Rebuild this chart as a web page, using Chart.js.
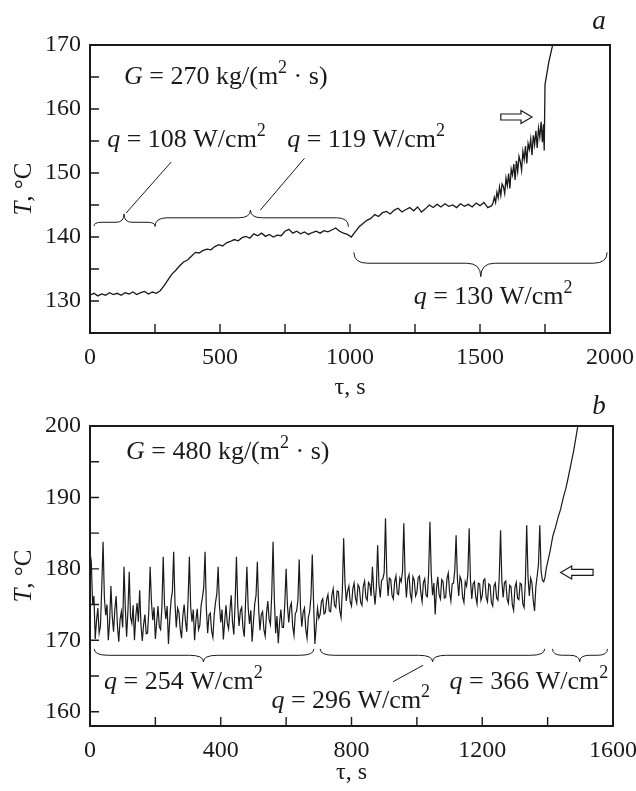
<!DOCTYPE html>
<html>
<head>
<meta charset="utf-8">
<script src="https://cdn.jsdelivr.net/npm/chart.js@4.4.1/dist/chart.umd.min.js"></script>
<style>
  html, body { margin: 0; padding: 0; background: #fff; }
  canvas { position: absolute; left: 0; }
  #chartA { top: 0; }
  #chartB { top: 395px; }
</style>
</head>
<body>
<canvas id="chartA" width="636" height="400"></canvas>
<canvas id="chartB" width="636" height="396"></canvas>
<script>
// panel a: G = 270 kg/(m2 s)
const tauA = [
  0, 15, 30, 45, 60, 75, 90, 105, 120, 135, 150, 165, 180, 195, 210, 225, 240, 255, 270,
  285, 300, 315, 330, 345, 360, 375, 390, 405, 420, 435, 450, 465, 480, 495, 510, 525,
  540, 555, 570, 585, 600, 615, 630, 645, 660, 675, 690, 705, 720, 735, 750, 765, 780,
  795, 810, 825, 840, 855, 870, 885, 900, 915, 930, 945, 960, 975, 990, 1005, 1020, 1035,
  1050, 1065, 1080, 1095, 1110, 1125, 1140, 1155, 1170, 1185, 1200, 1215, 1230, 1245,
  1260, 1275, 1290, 1305, 1320, 1335, 1350, 1365, 1380, 1395, 1410, 1425, 1440, 1455,
  1470, 1485, 1500, 1515, 1530, 1545,
  1550, 1555, 1560, 1565, 1570, 1575, 1580, 1585, 1590, 1595,
  1600, 1605, 1610, 1615, 1620, 1625, 1630, 1635, 1640, 1645,
  1650, 1655, 1660, 1665, 1670, 1675, 1680, 1685, 1690, 1695,
  1700, 1705, 1710, 1715, 1720, 1725, 1730, 1735, 1740, 1744, 1747,
  1750, 1765, 1785
];
const tempA = [
  130.9, 131.2, 130.8, 131.1, 130.9, 131.3, 131.0, 131.2, 130.9, 131.3, 131.1, 131.4, 131.0, 131.3, 131.5, 131.1, 131.4, 131.2, 131.6,
  132.4, 133.3, 134.2, 134.8, 135.5, 136.1, 136.4, 137.0, 137.6, 137.5, 137.9, 138.1, 138.0, 138.5, 138.8, 138.6, 139.1,
  139.3, 139.6, 139.4, 139.9, 140.1, 139.8, 140.5, 140.2, 140.6, 140.1, 140.4, 140.0, 140.3, 140.2, 140.9, 141.2, 140.6,
  140.9, 140.5, 140.8, 140.4, 140.7, 140.9, 140.6, 141.0, 140.8, 141.1, 141.4, 140.9, 140.6, 140.4, 140.0, 140.8, 141.6,
  142.1, 142.6, 142.9, 143.5, 143.2, 143.8, 144.0, 143.6, 144.2, 144.5, 143.9, 144.3, 144.6, 144.1,
  144.7, 143.9, 144.4, 145.0, 144.6, 145.1, 144.7, 145.2, 144.8, 145.0, 144.6, 145.2, 144.8, 145.1,
  144.7, 145.3, 144.9, 145.4, 144.6, 144.9,
  145.3, 146.2, 145.4, 147.0, 146.1, 147.8, 146.5, 148.3, 147.9, 146.8,
  149.2, 148.0, 149.9, 147.6, 150.6, 149.7, 151.4, 148.9, 151.9, 150.2,
  152.6, 151.8, 150.4, 153.4, 152.1, 154.2, 151.5, 154.6, 153.7, 155.3,
  152.8, 155.9, 154.4, 156.6, 153.9, 157.0, 155.6, 158.0, 154.8, 157.6, 153.5,
  163.8, 167.4, 171.0
];

// panel b: G = 480 kg/(m2 s)
const tauB = [
  0, 4, 8, 12, 16, 20, 24, 28, 32, 36, 40, 44, 48, 52, 56, 60, 64, 68, 72, 76,
  80, 84, 88, 92, 96, 100, 104, 108, 112, 116, 120, 124, 128, 132, 136, 140, 144, 148, 152, 156,
  160, 164, 168, 172, 176, 180, 184, 188, 192, 196, 200, 204, 208, 212, 216, 220, 224, 228, 232, 236,
  240, 244, 248, 252, 256, 260, 264, 268, 272, 276, 280, 284, 288, 292, 296, 300, 304, 308, 312, 316,
  320, 324, 328, 332, 336, 340, 344, 348, 352, 356, 360, 364, 368, 372, 376, 380, 384, 388, 392, 396,
  400, 404, 408, 412, 416, 420, 424, 428, 432, 436, 440, 444, 448, 452, 456, 460, 464, 468, 472, 476,
  480, 484, 488, 492, 496, 500, 504, 508, 512, 516, 520, 524, 528, 532, 536, 540, 544, 548, 552, 556,
  560, 564, 568, 572, 576, 580, 584, 588, 592, 596, 600, 604, 608, 612, 616, 620, 624, 628, 632, 636,
  640, 644, 648, 652, 656, 660, 664, 668, 672, 676, 680, 684, 688, 692, 696, 700, 704, 708, 712, 716,
  720, 724, 728, 732, 736, 740, 744, 748, 752, 756, 760, 764, 768, 772, 776, 780, 784, 788, 792, 796,
  800, 804, 808, 812, 816, 820, 824, 828, 832, 836, 840, 844, 848, 852, 856, 860, 864, 868, 872, 876,
  880, 884, 888, 892, 896, 900, 904, 908, 912, 916, 920, 924, 928, 932, 936, 940, 944, 948, 952, 956,
  960, 964, 968, 972, 976, 980, 984, 988, 992, 996, 1000, 1004, 1008, 1012, 1016, 1020, 1024, 1028, 1032, 1036,
  1040, 1044, 1048, 1052, 1056, 1060, 1064, 1068, 1072, 1076, 1080, 1084, 1088, 1092, 1096, 1100, 1104, 1108, 1112, 1116,
  1120, 1124, 1128, 1132, 1136, 1140, 1144, 1148, 1152, 1156, 1160, 1164, 1168, 1172, 1176, 1180, 1184, 1188, 1192, 1196,
  1200, 1204, 1208, 1212, 1216, 1220, 1224, 1228, 1232, 1236, 1240, 1244, 1248, 1252, 1256, 1260, 1264, 1268, 1272, 1276,
  1280, 1284, 1288, 1292, 1296, 1300, 1304, 1308, 1312, 1316, 1320, 1324, 1328, 1332, 1336, 1340, 1344, 1348, 1352, 1356,
  1360, 1364, 1368, 1372, 1376, 1380, 1384, 1388, 1392, 1396, 1400,
  1408, 1416, 1424, 1432, 1440, 1448, 1456, 1464, 1472, 1480, 1488, 1496
];
const tempB = [
  182.3, 181.0, 175.0, 176.2, 170.2, 172.8, 174.5, 171.0, 172.0, 177.5, 183.8, 176.0, 173.5, 175.0, 170.0, 172.6, 177.6, 173.4, 171.2, 174.3,
  176.2, 172.0, 169.8, 172.9, 174.0, 171.8, 180.3, 174.6, 170.5, 174.1, 179.6, 173.2, 172.4, 174.9, 170.0, 173.3, 175.2, 172.6, 177.0, 172.1,
  169.9, 172.2, 173.6, 170.9, 171.0, 174.2, 180.3, 175.4, 172.8, 174.6, 170.2, 172.5, 174.8, 171.9, 171.5, 174.7, 181.7, 175.0, 173.0, 174.8,
  169.5, 172.9, 175.6, 176.8, 182.4, 175.2, 171.8, 174.5, 173.9, 171.6, 170.3, 173.4, 175.0, 172.7, 171.2, 175.6, 181.7, 174.7, 172.6, 174.3,
  170.0, 172.8, 174.4, 171.5, 172.1, 174.9, 176.0, 177.4, 182.4, 174.4, 171.0, 173.5, 173.8, 171.3, 170.4, 173.6, 175.3, 176.5, 180.3, 174.9,
  172.5, 174.3, 170.1, 172.6, 174.9, 172.4, 171.6, 174.1, 176.3, 172.5, 170.8, 175.3, 181.7, 174.8, 172.0, 174.1, 174.6, 171.7, 170.5, 175.4,
  180.3, 174.5, 172.3, 174.2, 169.8, 172.6, 175.1, 176.3, 181.0, 174.3, 171.4, 173.6, 174.0, 171.5, 170.6, 173.8, 175.5, 172.9, 172.2, 176.4,
  183.8, 175.7, 171.0, 173.4, 169.6, 172.5, 174.3, 171.8, 171.8, 175.2, 180.0, 174.9, 172.5, 174.6, 175.2, 172.0, 170.7, 173.7, 174.1, 175.6,
  181.3, 174.6, 171.9, 173.9, 174.5, 171.6, 170.3, 173.2, 174.0, 176.1, 182.0, 175.3, 169.5, 172.0, 174.5, 173.1, 173.6, 175.4, 175.8, 173.7,
  173.9, 175.7, 176.4, 174.1, 174.0, 176.3, 177.2, 174.9, 174.6, 176.9, 176.8, 174.2, 173.2, 177.0, 184.3, 178.1, 175.5, 176.9, 177.6, 175.4,
  174.8, 177.2, 178.0, 175.9, 175.2, 177.8, 177.4, 175.3, 174.9, 177.6, 178.3, 176.0, 175.6, 178.1, 177.8, 176.2, 180.3, 177.0, 175.0, 177.4,
  183.3, 177.8, 176.0, 178.4, 178.6, 179.5, 187.1, 179.2, 176.2, 178.7, 178.5, 176.3, 175.8, 178.2, 179.0, 176.6, 176.4, 178.7, 178.2, 179.6,
  186.4, 179.0, 176.0, 178.6, 179.2, 176.5, 175.6, 178.9, 178.4, 176.2, 176.7, 178.8, 179.0, 176.7, 175.4, 178.1, 178.6, 176.3, 176.1, 179.4,
  186.6, 179.3, 176.3, 178.0, 173.6, 177.2, 178.9, 176.4, 175.8, 178.5, 178.2, 175.9, 176.0, 178.6, 179.4, 176.8, 175.5, 177.9, 178.0, 179.8,
  184.7, 178.6, 176.2, 178.9, 178.4, 176.0, 175.3, 178.2, 177.6, 179.3, 185.7, 178.4, 175.8, 177.9, 178.2, 176.1, 175.1, 178.0, 177.9, 175.6,
  176.3, 178.4, 178.6, 176.0, 175.4, 177.9, 177.7, 175.3, 174.8, 177.6, 178.0, 175.9, 175.6, 178.8, 185.4, 178.3, 176.0, 178.1, 178.3, 175.8,
  175.2, 177.7, 177.5, 175.0, 174.2, 177.4, 178.1, 175.9, 175.7, 178.0, 177.8, 175.1, 174.6, 178.3, 186.1, 178.9, 176.2, 178.7, 178.0, 175.6,
  174.1, 177.5, 179.0, 180.6, 186.1, 179.7, 178.4, 178.2, 178.8, 180.1, 180.9,
  182.6, 184.6, 185.8, 187.2, 188.4, 190.0, 191.3, 193.0, 194.8, 196.6, 198.8, 201.0
];

const INK = '#1a1a1a';
const SERIF = "'Liberation Serif', 'DejaVu Serif', serif";

// text pieces: [text, style]  style: 'i' italic, 's' superscript
function richText(ctx, parts, x, y, size) {
  ctx.textBaseline = 'middle';
  ctx.textAlign = 'left';
  let cx = x;
  parts.forEach(([t, st]) => {
    const sup = st === 's';
    const fs = sup ? Math.round(size * 0.68) : size;
    ctx.font = (st === 'i' ? 'italic ' : '') + fs + 'px ' + SERIF;
    ctx.fillText(t, cx, sup ? y - size * 0.34 : y);
    cx += ctx.measureText(t).width;
  });
}

function brace(ctx, x1, x2, xm, yEnd, yLine, yTip, r) {
  r = Math.min(r, (xm - x1) / 2, (x2 - xm) / 2);
  ctx.beginPath();
  ctx.moveTo(x1, yEnd);
  ctx.quadraticCurveTo(x1, yLine, x1 + r, yLine);
  ctx.lineTo(xm - r, yLine);
  ctx.quadraticCurveTo(xm, yLine, xm, yTip);
  ctx.quadraticCurveTo(xm, yLine, xm + r, yLine);
  ctx.lineTo(x2 - r, yLine);
  ctx.quadraticCurveTo(x2, yLine, x2, yEnd);
  ctx.stroke();
}

function hollowArrow(ctx, xTail, xHead, y) {
  const dir = Math.sign(xHead - xTail);
  const xb = xHead - dir * 11;
  ctx.beginPath();
  ctx.moveTo(xTail, y - 3);
  ctx.lineTo(xb, y - 3);
  ctx.lineTo(xb, y - 6.5);
  ctx.lineTo(xHead, y);
  ctx.lineTo(xb, y + 6.5);
  ctx.lineTo(xb, y + 3);
  ctx.lineTo(xTail, y + 3);
  ctx.closePath();
  ctx.stroke();
}

function makeDecor(d) {
  return {
    id: 'decor',
    afterDatasetsDraw(chart) {
      const { ctx, chartArea: a, scales: { x, y } } = chart;
      const X = v => x.getPixelForValue(v);
      const Y = v => y.getPixelForValue(v);
      ctx.save();
      ctx.strokeStyle = INK;
      ctx.fillStyle = INK;

      // frame and inward ticks
      ctx.lineWidth = 2;
      ctx.strokeRect(a.left, a.top, a.right - a.left, a.bottom - a.top);
      ctx.lineWidth = 1.4;
      ctx.beginPath();
      x.ticks.forEach(t => {
        if (t.value <= x.min || t.value >= x.max) return;
        ctx.moveTo(X(t.value), a.bottom);
        ctx.lineTo(X(t.value), a.bottom - 9);
      });
      y.ticks.forEach(t => {
        if (t.value <= y.min || t.value >= y.max || t.value % 5 !== 0) return;
        ctx.moveTo(a.left, Y(t.value));
        ctx.lineTo(a.left + 9, Y(t.value));
      });
      ctx.stroke();

      // braces, leader lines, arrows
      ctx.lineWidth = 1;
      d.braces.forEach(b => brace(ctx, X(b[0]), X(b[1]), X(b[2]), Y(b[3]), Y(b[4]), Y(b[5]), b[6]));
      ctx.beginPath();
      d.leaders.forEach(l => { ctx.moveTo(X(l[0]), Y(l[1])); ctx.lineTo(X(l[2]), Y(l[3])); });
      ctx.stroke();
      ctx.lineWidth = 1.2;
      d.arrows.forEach(ar => hollowArrow(ctx, X(ar[0]), X(ar[1]), Y(ar[2])));

      // annotations
      d.notes.forEach(n => richText(ctx, n.parts, X(n.x), Y(n.y), 26));

      // panel letter
      ctx.font = 'italic 27px ' + SERIF;
      ctx.textAlign = 'center';
      ctx.textBaseline = 'middle';
      ctx.fillText(d.letter, 599, d.letterY);

      // y title with italic T
      ctx.translate(24, (a.top + a.bottom) / 2);
      ctx.rotate(-Math.PI / 2);
      ctx.font = 'italic 25px ' + SERIF;
      const w1 = ctx.measureText('T').width;
      ctx.font = '25px ' + SERIF;
      const w2 = ctx.measureText(', °C').width;
      ctx.textAlign = 'left';
      ctx.font = 'italic 25px ' + SERIF;
      ctx.fillText('T', -(w1 + w2) / 2, 0);
      ctx.font = '25px ' + SERIF;
      ctx.fillText(', °C', -(w1 + w2) / 2 + w1, 0);
      ctx.restore();
    }
  };
}

function makeChart(id, d) {
  return new Chart(document.getElementById(id), {
    type: 'line',
    data: {
      datasets: [{
        data: d.tau.map((t, i) => ({ x: t, y: d.temp[i] })),
        borderColor: INK,
        borderWidth: d.lineWidth,
        pointRadius: 0,
        tension: 0,
        fill: false
      }]
    },
    options: {
      responsive: false,
      animation: false,
      events: [],
      layout: { padding: d.pad },
      plugins: { legend: { display: false }, tooltip: { enabled: false } },
      scales: {
        x: {
          type: 'linear',
          min: d.xMin,
          max: d.xMax,
          grid: { display: false, drawTicks: false },
          border: { display: false },
          ticks: {
            stepSize: d.xStep,
            autoSkip: false,
            includeBounds: false,
            maxRotation: 0,
            padding: 10,
            color: INK,
            font: { family: SERIF, size: 24, lineHeight: 1.2 },
            callback: v => (v % d.xLabelStep === 0 ? String(v) : '')
          },
          title: {
            display: true,
            text: 'τ, s',
            color: INK,
            font: { family: SERIF, size: 24, lineHeight: 1 },
            padding: { top: 0, bottom: d.xTitlePad }
          },
          afterFit: s => { s.height = d.xAxisH; s.paddingLeft = 0; s.paddingRight = 0; }
        },
        y: {
          min: d.yMin,
          max: d.yMax,
          grid: { display: false, drawTicks: false },
          border: { display: false },
          ticks: {
            stepSize: 5,
            autoSkip: false,
            includeBounds: false,
            padding: 9,
            color: INK,
            font: { family: SERIF, size: 24, lineHeight: 1.2 },
            callback: v => (v % 10 === 0 ? String(v) : '')
          },
          afterFit: s => { s.width = 90; s.paddingTop = 0; s.paddingBottom = 0; }
        }
      }
    },
    plugins: [makeDecor(d)]
  });
}

makeChart('chartA', {
  tau: tauA, temp: tempA, lineWidth: 1.3,
  xMin: 0, xMax: 2000, xStep: 250, xLabelStep: 500,
  yMin: 125, yMax: 170,
  pad: { left: 0, right: 26, top: 45, bottom: 0 },
  xAxisH: 67, xTitlePad: 0,
  letter: 'a', letterY: 22,
  braces: [
    [15, 250, 131, 141.7, 142.3, 143.6, 8],
    [250, 994, 617, 141.6, 143.0, 144.2, 12],
    [1015, 1989, 1503, 137.6, 135.9, 133.8, 14]
  ],
  leaders: [[312, 151.7, 139, 143.75], [825, 152.3, 655, 144.2]],
  arrows: [[1580, 1700, 158.75]],
  notes: [
    { x: 131, y: 165, parts: [['G', 'i'], [' = 270 kg/(m'], ['2', 's'], [' · s)']] },
    { x: 66, y: 155.2, parts: [['q', 'i'], [' = 108 W/cm'], ['2', 's']] },
    { x: 759, y: 155.2, parts: [['q', 'i'], [' = 119 W/cm'], ['2', 's']] },
    { x: 1245, y: 130.6, parts: [['q', 'i'], [' = 130 W/cm'], ['2', 's']] }
  ]
});

makeChart('chartB', {
  tau: tauB, temp: tempB, lineWidth: 1.2,
  xMin: 0, xMax: 1600, xStep: 200, xLabelStep: 400,
  yMin: 158, yMax: 200,
  pad: { left: 0, right: 23, top: 31, bottom: 0 },
  xAxisH: 65, xTitlePad: 6,
  letter: 'b', letterY: 12,
  braces: [
    [13, 685, 347, 168.8, 167.9, 167.0, 14],
    [704, 1391, 1048, 168.8, 167.9, 167.0, 14],
    [1415, 1583, 1498, 168.8, 167.9, 167.0, 10]
  ],
  leaders: [[1019, 166.5, 927, 164.2]],
  arrows: [[1539, 1440, 179.5]],
  notes: [
    { x: 110, y: 196.4, parts: [['G', 'i'], [' = 480 kg/(m'], ['2', 's'], [' · s)']] },
    { x: 43, y: 164.2, parts: [['q', 'i'], [' = 254 W/cm'], ['2', 's']] },
    { x: 555, y: 161.5, parts: [['q', 'i'], [' = 296 W/cm'], ['2', 's']] },
    { x: 1100, y: 164.2, parts: [['q', 'i'], [' = 366 W/cm'], ['2', 's']] }
  ]
});
</script>
</body>
</html>
